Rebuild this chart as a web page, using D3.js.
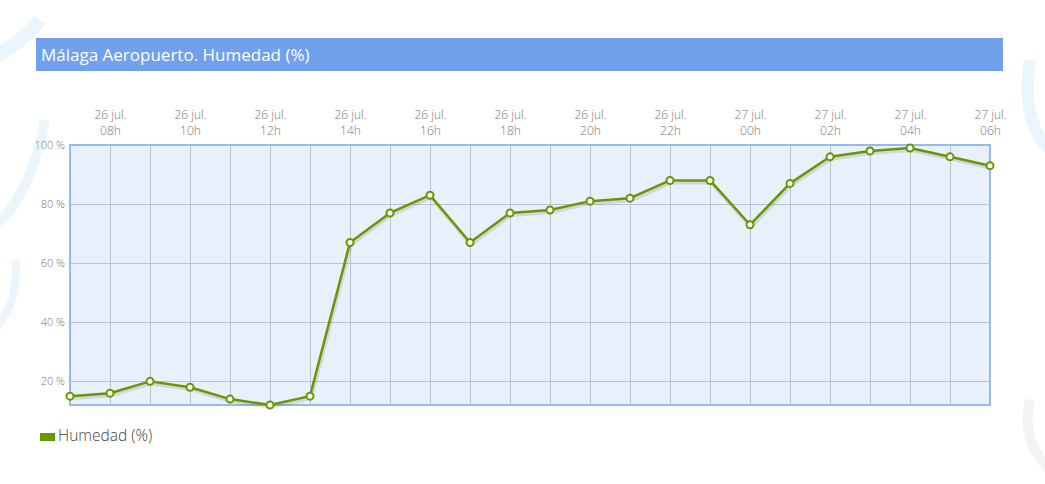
<!DOCTYPE html>
<html><head><meta charset="utf-8">
<script src="https://cdn.jsdelivr.net/npm/d3@7"></script>
<style>
html,body{margin:0;padding:0;background:#fff;}
svg{display:block;font-family:"Open Sans",sans-serif;}
</style></head>
<body>
<svg id="c" width="1045" height="484"></svg>
<script>
const hours = ["07h","08h","09h","10h","11h","12h","13h","14h","15h","16h","17h","18h","19h","20h","21h","22h","23h","00h","01h","02h","03h","04h","05h","06h"];
const days = ["26 jul.","26 jul.","26 jul.","26 jul.","26 jul.","26 jul.","26 jul.","26 jul.","26 jul.","26 jul.","26 jul.","26 jul.","26 jul.","26 jul.","26 jul.","26 jul.","26 jul.","27 jul.","27 jul.","27 jul.","27 jul.","27 jul.","27 jul.","27 jul."];
const humidity = [15,16,20,18,14,12,15,67,77,83,67,77,78,81,82,88,88,73,87,96,98,99,96,93];
const yTicks = [20,40,60,80,100];
const title = "Málaga Aeropuerto. Humedad (%)";
const seriesName = "Humedad (%)";

const svg = d3.select("#c");
const L = 70, R = 990, T = 145, B = 405;

// faint decorative background swooshes
const deco = svg.append("g").attr("fill","none").attr("stroke","#eaf6fc");
deco.append("path").attr("d","M-10,60 Q25,40 40,20").attr("stroke-width",14);
deco.append("path").attr("d","M-10,230 Q30,200 45,120").attr("stroke-width",10);
deco.append("path").attr("d","M-5,330 Q20,300 15,260").attr("stroke-width",8);
deco.append("path").attr("d","M1050,150 Q1020,120 1030,60").attr("stroke-width",12);
deco.append("path").attr("d","M1050,470 Q1020,440 1030,400").attr("stroke-width",10).attr("stroke","#f2f3f4");

// title bar
svg.append("rect").attr("x",36).attr("y",38).attr("width",967).attr("height",33).attr("fill","#71a1ec");
svg.append("text").attr("x",41).attr("y",61).attr("fill","#fff").attr("font-size",17).text(title);

const x = d3.scalePoint().domain(hours).range([L,R]);
const y = d3.scaleLinear().domain([12,100]).range([B,T]);

svg.append("rect").attr("x",L).attr("y",T).attr("width",R-L).attr("height",B-T).attr("fill","#e8f0fb");

// grid
const grid = svg.append("g").attr("stroke","#bcc2cf").attr("stroke-width",1);
hours.forEach((h,i)=>{ if(i>0 && i<hours.length-1) grid.append("line").attr("x1",x(h)+0.5).attr("x2",x(h)+0.5).attr("y1",T).attr("y2",B); });
yTicks.forEach(v=>{ grid.append("line").attr("x1",L).attr("x2",R).attr("y1",Math.round(y(v))+0.5).attr("y2",Math.round(y(v))+0.5); });

// y axis labels
const ya = svg.append("g").attr("transform",`translate(${L},0)`)
  .call(d3.axisLeft(y).tickValues(yTicks).tickSize(0).tickPadding(5).tickFormat(d=>d+" %"));
ya.select(".domain").remove();
ya.selectAll("text").attr("fill","#777").attr("font-size",11).attr("font-weight",300).attr("font-family","Open Sans, sans-serif");

// x axis labels (top, every 2 hours)
const xa = svg.append("g").attr("transform",`translate(0,${T})`)
  .call(d3.axisTop(x).tickValues(hours.filter((h,i)=>i%2===1)).tickSize(0).tickFormat(""));
xa.select(".domain").remove();
xa.selectAll(".tick").each(function(h){
  const i = hours.indexOf(h);
  const t = d3.select(this).append("text").attr("fill","#777").attr("font-size",12).attr("font-weight",300).attr("text-anchor","middle").attr("font-family","Open Sans, sans-serif");
  t.append("tspan").attr("x",0).attr("y",-26).text(days[i]);
  t.append("tspan").attr("x",0).attr("y",-10).text(h);
});

// plot border
svg.append("rect").attr("x",L).attr("y",T).attr("width",R-L).attr("height",B-T).attr("fill","none").attr("stroke","#97b9eb").attr("stroke-width",2);

// line
const line = d3.line().x((d,i)=>x(hours[i])).y(d=>y(d));
svg.append("path").datum(humidity).attr("d",line).attr("fill","none").attr("stroke","rgba(0,0,0,0.1)").attr("stroke-width",4).attr("transform","translate(1,2)");
svg.append("path").datum(humidity).attr("d",line).attr("fill","none").attr("stroke","#669900").attr("stroke-width",2.5).attr("stroke-linejoin","round");

svg.append("g").selectAll("circle").data(humidity).join("circle")
  .attr("cx",(d,i)=>x(hours[i])).attr("cy",d=>y(d)).attr("r",3.5)
  .attr("fill","#fff").attr("stroke","#669900").attr("stroke-width",2);

// legend
svg.append("rect").attr("x",40).attr("y",433).attr("width",15).attr("height",8).attr("fill","#669900");
svg.append("text").attr("x",58).attr("y",441).attr("fill","#444").attr("font-size",15.5).attr("font-weight",300).text(seriesName);
</script>
</body></html>
